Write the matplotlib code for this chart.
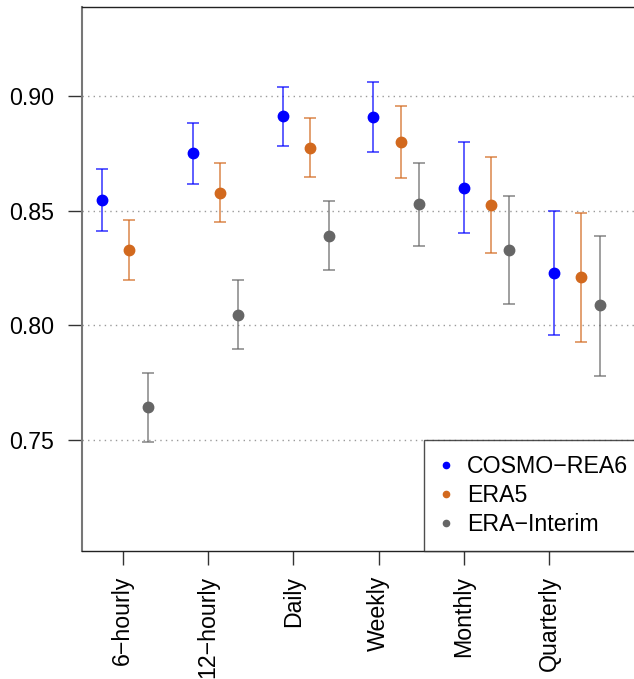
import matplotlib
matplotlib.use("Agg")
import matplotlib.pyplot as plt
import numpy as np

plt.rcParams['font.family'] = ['Liberation Sans', 'DejaVu Sans']

categories = ["6\u2212hourly", "12\u2212hourly", "Daily", "Weekly", "Monthly", "Quarterly"]
series = ["COSMO\u2212REA6", "ERA5", "ERA\u2212Interim"]

cosmo_mean = [0.8545, 0.8750, 0.8913, 0.8908, 0.8601, 0.8229]
cosmo_low  = [0.8413, 0.8617, 0.8781, 0.8758, 0.8401, 0.7957]
cosmo_high = [0.8682, 0.8885, 0.9042, 0.9061, 0.8799, 0.8499]

era5_mean = [0.8328, 0.8579, 0.8776, 0.8800, 0.8524, 0.8210]
era5_low  = [0.8199, 0.8449, 0.8647, 0.8643, 0.8315, 0.7928]
era5_high = [0.8458, 0.8709, 0.8905, 0.8959, 0.8733, 0.8492]

erai_mean = [0.7642, 0.8047, 0.8392, 0.8528, 0.8330, 0.8087]
erai_low  = [0.7491, 0.7899, 0.8243, 0.8347, 0.8094, 0.7781]
erai_high = [0.7794, 0.8197, 0.8543, 0.8710, 0.8564, 0.8391]

yticks = [0.75, 0.80, 0.85, 0.90]
ytick_labels = ["0.75", "0.80", "0.85", "0.90"]

colors = ["#0000FF", "#D2691E", "#666666"]
offsets = [-0.30, 0.017, 0.233]
group_step = 1.06

fig = plt.figure(figsize=(6.34, 6.79), dpi=100)
right_px = 643
ax = fig.add_axes([82/634, 1 - 551/679, (right_px - 82)/634, (551 - 7)/679])

ticks = np.arange(1, len(categories) + 1)
data = [(cosmo_mean, cosmo_low, cosmo_high),
        (era5_mean, era5_low, era5_high),
        (erai_mean, erai_low, erai_high)]

for y in yticks:
    ax.axhline(y, color="#9a9a9a", lw=1.0, ls=(0, (1, 3)), zorder=0)

handles = []
for (m, lo, hi), c, off, name in zip(data, colors, offsets, series):
    m = np.array(m); lo = np.array(lo); hi = np.array(hi)
    x = ticks * group_step + off
    ax.errorbar(x, m, yerr=[m - lo, hi - m], fmt='none', ecolor=c, elinewidth=1.1,
                capsize=4, capthick=1.1, alpha=0.8, zorder=2)
    ax.plot(x, m, 'o', color=c, markersize=7.5, zorder=3)
    h, = ax.plot([], [], 'o', color=c, markersize=4.5, label=name)
    handles.append(h)

ax.set_xlim(0.523, 1 + (right_px - 122.7) / 85.3)
ax.set_ylim(0.7016, 0.9389)
ax.set_xticks(ticks)
ax.set_xticklabels(categories, rotation=90, va='top')
ax.set_yticks(yticks)
ax.set_yticklabels(ytick_labels)
ax.tick_params(axis='both', labelsize=16.7, length=10, width=1.0, color="#333333")
ax.tick_params(axis='y', pad=10)
ax.tick_params(axis='x', pad=8)

for s in ['top', 'bottom']:
    ax.spines[s].set_color("#222222")
    ax.spines[s].set_linewidth(1.0)
ax.spines['left'].set_color("#777777")
ax.spines['left'].set_linewidth(1.5)
ax.spines['right'].set_visible(False)

leg = ax.legend(handles=handles, loc='lower right', borderaxespad=0, fontsize=16.7,
                frameon=True, fancybox=False, edgecolor='#222222', handlelength=0.6,
                handletextpad=0.6, labelspacing=0.25, borderpad=0.65)
leg.get_frame().set_linewidth(1.0)

fig.savefig("out.png", dpi=100)
